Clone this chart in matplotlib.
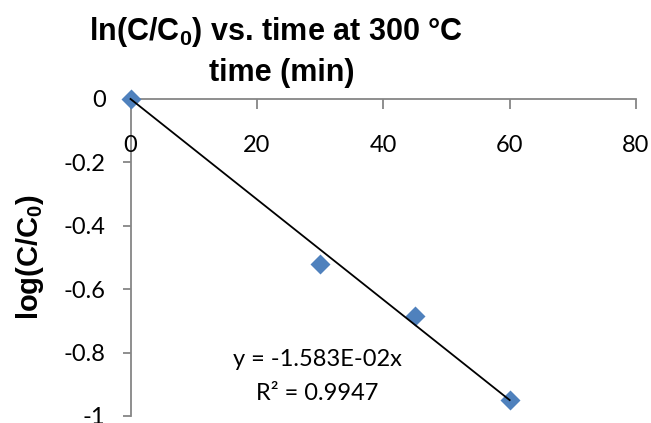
import numpy as np
import matplotlib
matplotlib.use("Agg")
import matplotlib.pyplot as plt

# data
time_min = [0, 30, 45, 60]
log_ratio = [0, -0.52, -0.685, -0.95]
slope = -1.583e-02
r2 = 0.9947

x_ticks = [0, 20, 40, 60, 80]
y_ticks = [0, -0.2, -0.4, -0.6, -0.8, -1]

tick_font = "Lato"
head_font = ["Liberation Sans Narrow", "Liberation Sans"]
gray = "#868686"

fig = plt.figure(figsize=(6.51, 4.23), dpi=100)
ax = fig.add_axes([0.2005, 0.01655, 0.7765, 0.7495])

# trendline
fit_x = np.array([0, 60])
ax.plot(fit_x, slope * fit_x, color="black", lw=1.3, zorder=3, clip_on=False)
ax.plot(time_min, log_ratio, ls="none", marker="D", ms=10.5,
        color="#4F81BD", mec="none", zorder=2, clip_on=False)

ax.set_xlim(0, 80)
ax.set_ylim(-1, 0)

# x axis drawn at y = 0 (top), labels below it
for s in ["top", "right"]:
    ax.spines[s].set_visible(False)
ax.spines["bottom"].set_position(("data", 0))
for s in ["bottom", "left"]:
    ax.spines[s].set_color(gray)
    ax.spines[s].set_linewidth(1.3)
    ax.spines[s].set_zorder(1)

ax.set_xticks(x_ticks)
ax.set_xticklabels([f"{v:g}" for v in x_ticks])
ax.set_yticks(y_ticks)
ax.set_yticklabels([f"{v:g}" for v in y_ticks])
ax.tick_params(axis="x", direction="out", length=7, width=1.3, color=gray,
               pad=19, labelsize=17)
ax.tick_params(axis="y", direction="out", length=6, width=1.3, color=gray,
               pad=12, labelsize=17)
for lab in ax.get_xticklabels() + ax.get_yticklabels():
    lab.set_fontfamily(tick_font)

fig.text(276 / 651, 1 - 32 / 423, "ln(C/C$_\\mathregular{0}$) vs. time at 300 °C",
         ha="center", va="center", fontsize=22, fontweight="bold",
         family=head_font)
fig.text(282 / 651, 1 - 73 / 423, "time (min)", ha="center", va="center",
         fontsize=22, fontweight="bold", family=head_font)
fig.text(30 / 651, 1 - 257 / 423, "log(C/C$_\\mathregular{0}$)", rotation=90,
         ha="center", va="center", fontsize=21, fontweight="bold",
         family="Liberation Sans")

fig.text(317 / 651, 1 - 359 / 423, f"y = {slope:.3E}x", ha="center",
         va="center", fontsize=17, family=tick_font)
fig.text(317 / 651, 1 - 393 / 423, f"R² = {r2}", ha="center", va="center",
         fontsize=17, family=tick_font)

fig.savefig("out.png", dpi=100)
